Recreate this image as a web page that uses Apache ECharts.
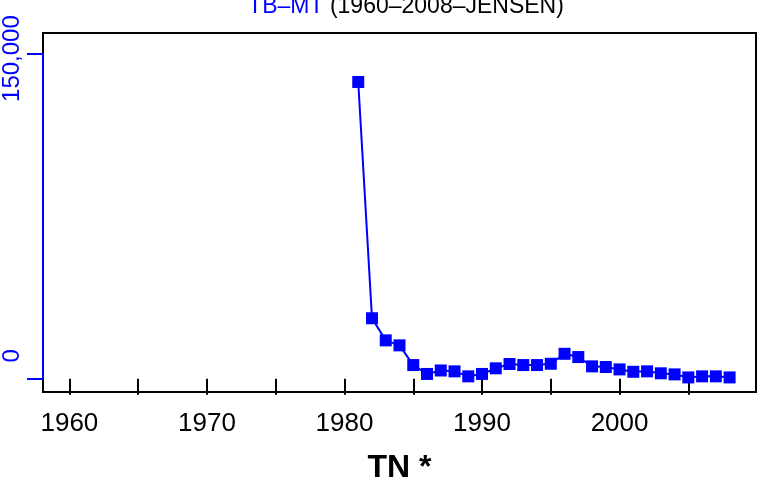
<!DOCTYPE html>
<html>
<head>
<meta charset="utf-8">
<script src="https://cdn.jsdelivr.net/npm/echarts@6/dist/echarts.min.js"></script>
<style>
html,body{margin:0;padding:0;background:#fff;}
#chart{width:759px;height:487px;}
</style>
</head>
<body>
<div id="chart"></div>
<script>
// Data
var years = [1981,1982,1983,1984,1985,1986,1987,1988,1989,1990,1991,1992,1993,1994,1995,1996,1997,1998,1999,2000,2001,2002,2003,2004,2005,2006,2007,2008];
var values = [136900,27900,17700,15400,6300,2200,3800,3400,1100,2200,4800,6800,6300,6300,6900,11500,10000,5700,5400,4300,3200,3400,2500,2000,600,1100,1100,600];
var xTickValues = [1960,1965,1970,1975,1980,1985,1990,1995,2000,2005];
var xLabelValues = [1960,1970,1980,1990,2000];
var yTickValues = [0,150000];
var yTickLabels = ['0','150,000'];
var titleMain = 'TB\u2013MT';
var titleSub = '(1960\u20132008\u2013JENSEN)';
var xName = 'TN *';

var FONT = '"Liberation Sans", Arial, Helvetica, sans-serif';
var BLUE = '#0000FF';

var chart = echarts.init(document.getElementById('chart'), null, {renderer:'canvas'});
var xMin = 1960 - 0.04*48, xMax = 2008 + 0.04*48;

chart.setOption({
  animation:false,
  backgroundColor:'#ffffff',
  title:{
    text:'{a|'+titleMain+'} {b|'+titleSub+'}',
    left:401, top:-10, textAlign:'center',
    textStyle:{
      fontFamily:FONT, fontSize:23, fontWeight:'normal',
      rich:{
        a:{color:BLUE, fontFamily:FONT, fontSize:23},
        b:{color:'#000', fontFamily:FONT, fontSize:23}
      }
    }
  },
  grid:{left:43, right:3, top:33, bottom:95, containLabel:false, outerBoundsMode:'none',
    show:true, borderColor:'#000', borderWidth:2, backgroundColor:'transparent'},
  xAxis:{
    type:'value', min:xMin, max:xMax,
    axisLine:{show:false},
    splitLine:{show:false},
    axisTick:{show:true, inside:false, length:16, lineStyle:{color:'#000', width:2}, customValues:xTickValues},
    axisLabel:{show:true, margin:19, fontFamily:FONT, fontSize:26, color:'#000', customValues:xLabelValues,
      formatter:function(v){return String(v);}},
    name:xName, nameLocation:'middle', nameGap:60,
    nameTextStyle:{fontFamily:FONT, fontSize:32, fontWeight:'bold', color:'#000'}
  },
  yAxis:{
    type:'value', min:-6125, max:159490,
    axisLine:{show:false},
    splitLine:{show:false},
    axisTick:{show:true, inside:false, length:16, lineStyle:{color:BLUE, width:2}, customValues:yTickValues},
    axisLabel:{show:true, rotate:90, margin:19, fontFamily:FONT, fontSize:24, color:BLUE, customValues:yTickValues,
      formatter:function(v){
        var i = yTickValues.indexOf(v);
        var t = i>=0 ? yTickLabels[i] : '';
        return v===0 ? '{z|'+t+'}' : '{n|'+t+'}';
      },
      rich:{
        z:{fontFamily:FONT, fontSize:24, color:BLUE, padding:[0,0,0,46]},
        n:{fontFamily:FONT, fontSize:24, color:BLUE, padding:[0,10,0,0]}
      }
    }
  },
  series:[{
    type:'line',
    data:years.map(function(y,i){return [y, values[i]];}),
    clip:false,
    symbol:'rect', symbolSize:12,
    lineStyle:{color:BLUE, width:2},
    itemStyle:{color:BLUE},
    markLine:{
      silent:true, symbol:'none', animation:false,
      label:{show:false},
      lineStyle:{color:BLUE, width:2, type:'solid'},
      data:[[{coord:[xMin, yTickValues[0]]},{coord:[xMin, yTickValues[yTickValues.length-1]]}]]
    }
  }]
});
</script>
</body>
</html>
